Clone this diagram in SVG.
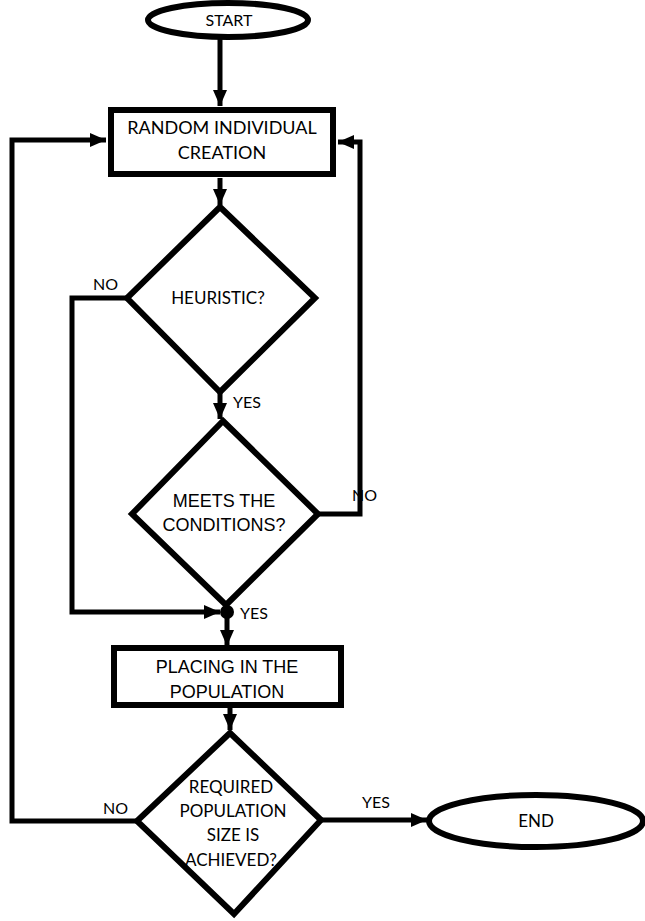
<svg xmlns="http://www.w3.org/2000/svg" width="645" height="921" viewBox="0 0 645 921">
<defs>
<marker id="arr" markerUnits="userSpaceOnUse" markerWidth="18" markerHeight="18" viewBox="0 0 18 18" refX="16" refY="9" orient="auto">
<path d="M0,2 L16,9 L0,16 Z" fill="#000"/>
</marker>
</defs>
<style>
.shape{fill:#fff;stroke:#000;stroke-width:6;stroke-linejoin:miter}
.conn{fill:none;stroke:#000;stroke-width:5}
.cal{font-family:Lato,"Open Sans",sans-serif;fill:#000;text-anchor:middle}
.ari{font-family:"Liberation Sans",Arial,sans-serif;fill:#000;text-anchor:middle}
.lbl{font-family:Lato,"Open Sans",sans-serif;fill:#000;font-size:16px}
</style>
<rect width="645" height="921" fill="#fff"/>
<g id="connectors">
<line class="conn" x1="220" y1="38" x2="220" y2="106" marker-end="url(#arr)"/>
<line class="conn" x1="220" y1="178" x2="220" y2="205" marker-end="url(#arr)"/>
<line class="conn" x1="220" y1="393" x2="220" y2="419" marker-end="url(#arr)"/>
<polyline class="conn" points="127,298 72,298 72,612 220,612" marker-end="url(#arr)"/>
<polyline class="conn" points="318,514 360,514 360,142 338,142" marker-end="url(#arr)"/>
<line class="conn" x1="227" y1="612" x2="227" y2="646" marker-end="url(#arr)"/>
<line class="conn" x1="230" y1="707" x2="230" y2="730" marker-end="url(#arr)"/>
<polyline class="conn" points="137,821 12,821 12,140 106,140" marker-end="url(#arr)"/>
<line class="conn" x1="322" y1="820" x2="427" y2="820" marker-end="url(#arr)"/>
<circle cx="227" cy="612" r="7" fill="#000"/>
<text class="lbl" x="93" y="290">NO</text>
<text class="lbl" x="233" y="408">YES</text>
<text class="lbl" x="352" y="501">NO</text>
<text class="lbl" x="240" y="619">YES</text>
<text class="lbl" x="103" y="814">NO</text>
<text class="lbl" x="362" y="808">YES</text>
</g>
<g id="start">
<ellipse class="shape" cx="228" cy="20" rx="80" ry="17" stroke-width="5"/>
<text class="cal" x="229" y="26" font-size="16">START</text>
</g>
<g id="random">
<rect class="shape" x="111" y="110" width="222" height="64"/>
<text class="cal" x="222" y="134" font-size="18">RANDOM INDIVIDUAL</text>
<text class="cal" x="222" y="159" font-size="18">CREATION</text>
</g>
<g id="heuristic">
<polygon class="shape" points="220,207 315,298 220,392 127,298" stroke-width="7"/>
<text class="cal" x="218" y="304" font-size="17">HEURISTIC?</text>
</g>
<g id="meets">
<polygon class="shape" points="223,421 318,514 226,605 132,514" stroke-width="7"/>
<text class="ari" x="224" y="507" font-size="18">MEETS THE</text>
<text class="ari" x="224" y="531" font-size="18">CONDITIONS?</text>
</g>
<g id="placing">
<rect class="shape" x="114" y="648" width="227" height="57"/>
<text class="ari" x="227" y="673" font-size="18">PLACING IN THE</text>
<text class="ari" x="227" y="698" font-size="18">POPULATION</text>
</g>
<g id="required">
<polygon class="shape" points="230,733 321,820 234,914 137,821" stroke-width="7"/>
<text class="cal" x="231" y="793" font-size="17">REQUIRED</text>
<text class="cal" x="233" y="817" font-size="17">POPULATION</text>
<text class="cal" x="233" y="841" font-size="17">SIZE IS</text>
<text class="cal" x="231" y="866" font-size="17">ACHIEVED?</text>
</g>
<g id="end">
<ellipse class="shape" cx="536" cy="821" rx="107" ry="26" stroke-width="6"/>
<text class="cal" x="536" y="827" font-size="17">END</text>
</g>
</svg>
